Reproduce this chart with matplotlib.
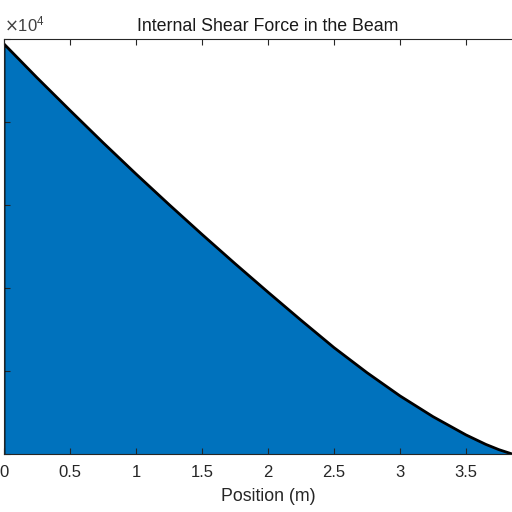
import numpy as np
import matplotlib.pyplot as plt

plt.rcParams['font.family'] = ['Liberation Sans', 'DejaVu Sans']

# shear force along the beam (values in 1e4 N)
position = [0.0, 0.25, 0.5, 0.75, 1.0, 1.25, 1.5, 1.75, 2.0, 2.25, 2.5,
            2.75, 3.0, 3.25, 3.5, 3.65, 3.75, 3.85]
shear = [2.47, 2.267, 2.07, 1.876, 1.687, 1.503, 1.323, 1.147, 0.975, 0.806, 0.641,
         0.49, 0.35, 0.225, 0.115, 0.058, 0.026, 0.0]
xticks = [0, 0.5, 1, 1.5, 2, 2.5, 3, 3.5]
yticks = [0, 0.5, 1, 1.5, 2, 2.5]

x = np.array(position)
y = np.array(shear) * 1e4

fig = plt.figure(figsize=(5.12, 5.12), dpi=100)
ax = fig.add_axes([4 / 512, 58 / 512, 528 / 512, 415 / 512])

ax.fill_between(x, y, 0, facecolor='#0072BD', edgecolor='none')
ax.plot(np.r_[0, x, x[-1]], np.r_[0, y, 0], color='black', lw=2)

ax.set_xlim(0, 4)
ax.set_ylim(0, 2.5e4)
ax.set_xticks(xticks)
ax.set_xticklabels([f'{t:g}' for t in xticks])
ax.set_yticks([t * 1e4 for t in yticks])
ax.set_yticklabels([])
ax.tick_params(direction='in', length=4, width=0.8, color='#262626',
               labelsize=12, labelcolor='#262626', top=True, right=True, pad=8)
for s in ax.spines.values():
    s.set_color('#262626')
    s.set_linewidth(0.8)

ax.set_title('Internal Shear Force in the Beam', fontsize=12.8, color='#1a1a1a', pad=6)
ax.set_xlabel('Position (m)', fontsize=12.8, color='#262626', labelpad=6)
ax.text(0.0, 1.01, r'$\times\mathregular{10^4}$', transform=ax.transAxes,
        fontsize=12, color='#404040', ha='left', va='bottom')

fig.savefig('out.png', dpi=100, facecolor='white')
